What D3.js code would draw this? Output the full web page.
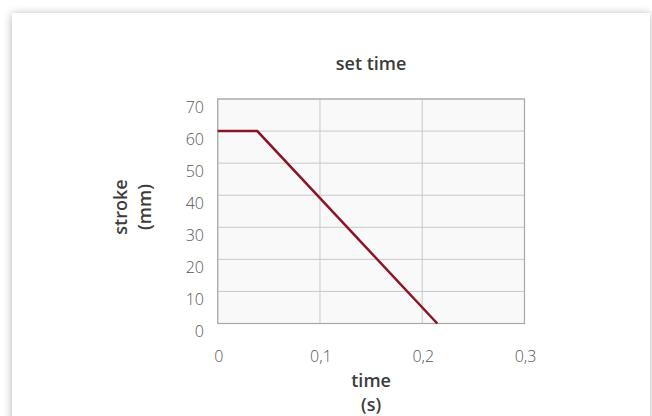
<!DOCTYPE html>
<html><head><meta charset="utf-8">
<script src="https://cdn.jsdelivr.net/npm/d3@7"></script>
<style>
html,body{margin:0;padding:0;background:#fff;}
svg{display:block;}
</style></head>
<body>
<script>
const chartTitle = "set time";
const xTitle = ["time", "(s)"];
const yTitle = ["stroke", "(mm)"];
const xTicks = [0, 0.1, 0.2, 0.3];
const yTicks = [0, 10, 20, 30, 40, 50, 60, 70];
const timeValues = [0, 0.0387, 0.2147];
const strokeValues = [60, 60, 0];

const W = 652, H = 416;
const plot = {left: 217.7, right: 524.5, top: 99, bottom: 323.5};

const svg = d3.select("body").append("svg").attr("width", W).attr("height", H);
const defs = svg.append("defs");
const f = defs.append("filter").attr("id","sh").attr("x","-10%").attr("y","-10%").attr("width","120%").attr("height","130%");
f.append("feGaussianBlur").attr("in","SourceAlpha").attr("stdDeviation",5).attr("result","b");
f.append("feOffset").attr("in","b").attr("dx",0).attr("dy",1).attr("result","o");
f.append("feComponentTransfer").attr("in","o").attr("result","o2").append("feFuncA").attr("type","linear").attr("slope",0.3);
const m = f.append("feMerge"); m.append("feMergeNode").attr("in","o2"); m.append("feMergeNode").attr("in","SourceGraphic");

svg.append("rect").attr("x",12).attr("y",13).attr("width",638).attr("height",420).attr("fill","#fff").attr("filter","url(#sh)");

const x = d3.scaleLinear().domain([0, 0.3]).range([plot.left, plot.right]);
const y = d3.scaleLinear().domain([0, 70]).range([plot.bottom, plot.top]);

svg.append("rect").attr("x",plot.left).attr("y",plot.top).attr("width",plot.right-plot.left).attr("height",plot.bottom-plot.top).attr("fill","#f9f9f9");

// grid
svg.append("g").selectAll("line").data(yTicks).join("line")
  .attr("x1",plot.left).attr("x2",plot.right).attr("y1",d=>y(d)).attr("y2",d=>y(d))
  .attr("stroke","#c8c8c8").attr("stroke-width",1);
svg.append("g").selectAll("line").data(xTicks).join("line")
  .attr("y1",plot.top).attr("y2",plot.bottom).attr("x1",d=>x(d)).attr("x2",d=>x(d))
  .attr("stroke","#c8c8c8").attr("stroke-width",1);
svg.append("rect").attr("x",plot.left).attr("y",plot.top).attr("width",plot.right-plot.left).attr("height",plot.bottom-plot.top)
  .attr("fill","none").attr("stroke","#a8a8a8").attr("stroke-width",1.2);

const fmt = d => d3.format(".1~f")(d).replace(".", ",");
const font = "'Open Sans', sans-serif";

svg.append("g").selectAll("text").data(yTicks).join("text")
  .attr("x",204).attr("y",d=>y(d)+13.5).attr("text-anchor","end")
  .attr("font-family",font).attr("font-weight",300).attr("font-size",16).attr("fill","#555")
  .text(d=>d);
svg.append("g").selectAll("text").data(xTicks).join("text")
  .attr("x",d=>x(d)+1).attr("y",361.5).attr("text-anchor","middle")
  .attr("font-family",font).attr("font-weight",300).attr("font-size",16).attr("fill","#555")
  .text(d=>fmt(d));

const line = d3.line().x(d=>x(d[0])).y(d=>y(d[1]));
svg.append("path").datum(timeValues.map((t,i)=>[t,strokeValues[i]]))
  .attr("d",line).attr("fill","none").attr("stroke","#8a1528").attr("stroke-width",2.5);

const tfs = 18;
svg.append("text").attr("x",(plot.left+plot.right)/2).attr("y",70).attr("text-anchor","middle")
  .attr("font-family",font).attr("font-weight",600).attr("font-size",tfs).attr("fill","#3c3c3c").text(chartTitle);
svg.append("g").selectAll("text").data(xTitle).join("text")
  .attr("x",(plot.left+plot.right)/2).attr("y",(d,i)=>387+i*23.5).attr("text-anchor","middle")
  .attr("font-family",font).attr("font-weight",600).attr("font-size",tfs).attr("fill","#3c3c3c").text(d=>d);
const cy = 207;
svg.append("g").selectAll("text").data(yTitle).join("text")
  .attr("transform",(d,i)=>`translate(${127+i*23.5},${cy}) rotate(-90)`).attr("text-anchor","middle")
  .attr("font-family",font).attr("font-weight",600).attr("font-size",tfs).attr("fill","#3c3c3c").text(d=>d);
</script>
</body></html>
